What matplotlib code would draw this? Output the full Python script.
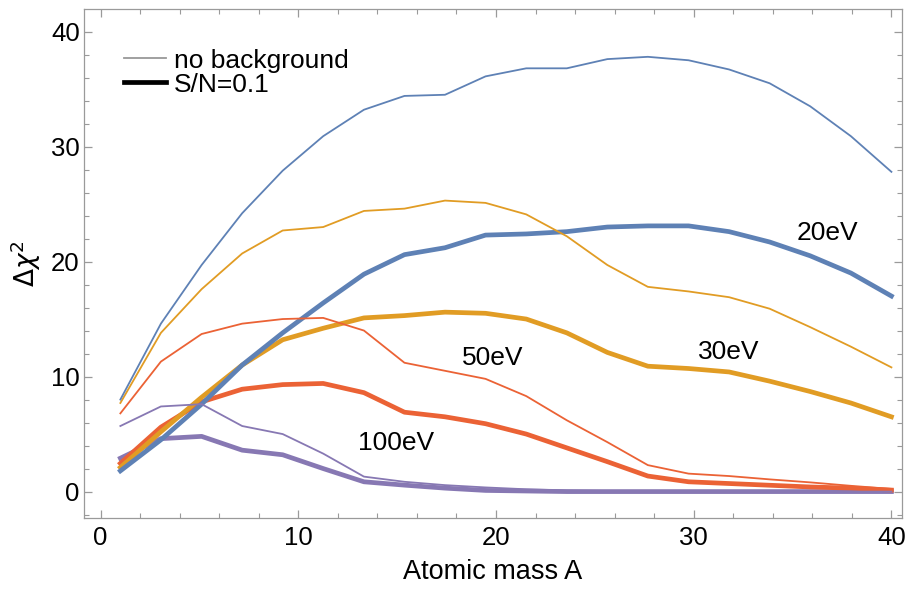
import matplotlib
matplotlib.use("Agg")
import matplotlib.pyplot as plt
from matplotlib.lines import Line2D

# atomic mass grid (20 points from 1 to 40)
A = [1.0, 3.05, 5.11, 7.16, 9.21, 11.26, 13.32, 15.37, 17.42, 19.47,
     21.53, 23.58, 25.63, 27.68, 29.74, 31.79, 33.84, 35.89, 37.95, 40.0]

# no background (thin lines)
nb_20 = [8.0, 14.6, 19.7, 24.2, 27.9, 30.9, 33.2, 34.4, 34.5, 36.1,
         36.8, 36.8, 37.6, 37.8, 37.5, 36.7, 35.5, 33.5, 30.9, 27.8]
nb_30 = [7.7, 13.8, 17.6, 20.7, 22.7, 23.0, 24.4, 24.6, 25.3, 25.1,
         24.1, 22.2, 19.7, 17.8, 17.4, 16.9, 15.9, 14.3, 12.6, 10.8]
nb_50 = [6.8, 11.3, 13.7, 14.6, 15.0, 15.1, 14.0, 11.2, 10.5, 9.8,
         8.3, 6.2, 4.3, 2.3, 1.56, 1.35, 1.06, 0.8, 0.5, 0.23]
nb_100 = [5.7, 7.4, 7.6, 5.7, 5.0, 3.3, 1.3, 0.85, 0.56, 0.36,
          0.2, 0.1, 0.05, 0.02, 0.0, 0.0, 0.0, 0.0, 0.0, 0.0]

# S/N = 0.1 (thick lines)
sn_20 = [1.8, 4.5, 7.6, 11.0, 13.8, 16.4, 18.9, 20.6, 21.2, 22.3,
         22.4, 22.6, 23.0, 23.1, 23.1, 22.6, 21.7, 20.5, 19.0, 17.0]
sn_30 = [2.1, 5.2, 8.2, 11.0, 13.2, 14.2, 15.1, 15.3, 15.6, 15.5,
         15.0, 13.8, 12.1, 10.9, 10.7, 10.4, 9.6, 8.7, 7.7, 6.5]
sn_50 = [2.45, 5.6, 7.8, 8.9, 9.3, 9.4, 8.6, 6.9, 6.5, 5.9,
         5.0, 3.8, 2.6, 1.35, 0.85, 0.7, 0.55, 0.4, 0.3, 0.13]
sn_100 = [2.9, 4.6, 4.8, 3.6, 3.2, 2.0, 0.85, 0.56, 0.3, 0.1,
          0.05, 0.0, 0.0, 0.0, 0.0, 0.0, 0.0, 0.0, 0.0, 0.0]

BLUE = "#5E81B5"
ORANGE = "#E19C24"
RED = "#EB6235"
PURPLE = "#8778B3"

plt.rcParams['font.family'] = ['Liberation Sans', 'DejaVu Sans']

fig = plt.figure(figsize=(9.09, 5.94), dpi=100)
ax = fig.add_axes([0.0924, 0.1279, 0.9, 0.857])

thin = 1.3
thick = 3.4
# thick ones first, thin drawn on top
ax.plot(A, sn_100, color=PURPLE, lw=thick)
ax.plot(A, sn_50, color=RED, lw=thick)
ax.plot(A, sn_30, color=ORANGE, lw=thick)
ax.plot(A, sn_20, color=BLUE, lw=thick)
ax.plot(A, nb_100, color=PURPLE, lw=thin)
ax.plot(A, nb_50, color=RED, lw=thin)
ax.plot(A, nb_30, color=ORANGE, lw=thin)
ax.plot(A, nb_20, color=BLUE, lw=thin)

ax.set_xlim(-0.84, 40.54)
ax.set_ylim(-2.3, 41.96)

ax.text(35.2, 22.5, "20eV", fontsize=19, va="center")
ax.text(30.2, 12.1, "30eV", fontsize=19, va="center")
ax.text(18.3, 11.65, "50eV", fontsize=19, va="center")
ax.text(13.0, 4.2, "100eV", fontsize=19, va="center")

handles = [Line2D([], [], color="#999999", lw=1.3),
           Line2D([], [], color="black", lw=3.4)]
ax.legend(handles, ["no background", "S/N=0.1"], loc="upper left",
          bbox_to_anchor=(0.049, 0.922), frameon=False, fontsize=19,
          handlelength=1.6, handletextpad=0.3, labelspacing=0.0,
          borderpad=0, borderaxespad=0)

ax.set_xticks([0, 10, 20, 30, 40])
ax.set_xticks(range(0, 41, 2), minor=True)
ax.set_yticks([0, 10, 20, 30, 40])
ax.set_yticks(range(-2, 42, 2), minor=True)
ax.tick_params(which="both", direction="in", top=True, right=True, color="#9a9a9a")
ax.tick_params(which="major", length=6, width=0.9)
ax.tick_params(which="minor", length=3.5, width=0.8)
ax.tick_params(axis="y", labelsize=18.5, pad=3)
ax.tick_params(axis="x", labelsize=18.5, pad=6)
for s in ax.spines.values():
    s.set_color("#9a9a9a")
    s.set_linewidth(0.9)

ax.set_xlabel("Atomic mass A", fontsize=19.5, labelpad=6)
ax.set_ylabel(r"$\Delta\chi^2$", fontsize=19, labelpad=6)

fig.savefig("out.png", dpi=100)
